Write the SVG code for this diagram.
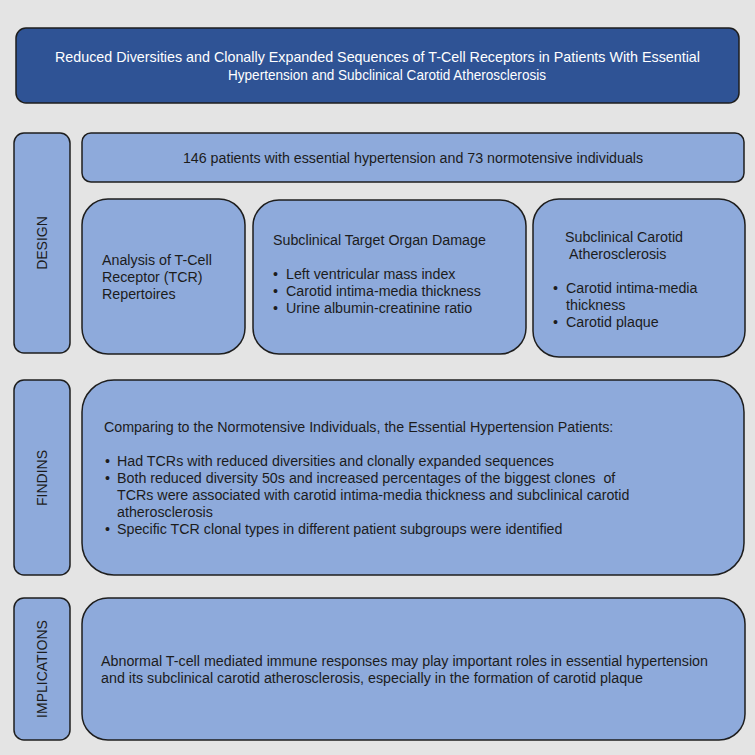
<svg xmlns="http://www.w3.org/2000/svg" width="755" height="755" viewBox="0 0 755 755">
<style>
.box{fill:#8eaadb;stroke:#1e1e1e;stroke-width:1.5}
.t{font-family:"Liberation Sans",Arial,sans-serif;font-size:14.25px;fill:#1c1c1c}
.v{font-family:"Liberation Sans",Arial,sans-serif;font-size:14px;fill:#1c1c1c;text-anchor:middle}
.w{font-family:"Liberation Sans",Arial,sans-serif;font-size:15px;fill:#ffffff;text-anchor:middle}
</style>
<rect x="0" y="0" width="755" height="755" fill="#e4e4e4"/>
<g id="title">
<rect x="16" y="28" width="723" height="75" rx="10" fill="#2f5395" stroke="#1e1e1e" stroke-width="1.5"/>
<text class="w" x="377.5" y="62" textLength="645" lengthAdjust="spacingAndGlyphs">Reduced Diversities and Clonally Expanded Sequences of T-Cell Receptors in Patients With Essential</text>
<text class="w" x="387" y="80" textLength="318" lengthAdjust="spacingAndGlyphs">Hypertension and Subclinical Carotid Atherosclerosis</text>
</g>
<g id="design-label">
<rect class="box" x="14" y="133" width="56" height="220" rx="10"/>
<text class="v" transform="translate(47,243) rotate(-90)">DESIGN</text>
</g>
<g id="patients">
<rect class="box" x="82" y="133" width="662" height="49" rx="9"/>
<text class="t" x="413" y="163" text-anchor="middle">146 patients with essential hypertension and 73 normotensive individuals</text>
</g>
<g id="analysis">
<rect class="box" x="82" y="199" width="163" height="155" rx="26"/>
<text class="t" x="102" y="265">Analysis of T-Cell</text>
<text class="t" x="102" y="282">Receptor (TCR)</text>
<text class="t" x="102" y="299">Repertoires</text>
</g>
<g id="organ-damage">
<rect class="box" x="253" y="200" width="273" height="154" rx="26"/>
<text class="t" x="273" y="245">Subclinical Target Organ Damage</text>
<text class="t" x="273" y="279">•</text><text class="t" x="286" y="279">Left ventricular mass index</text>
<text class="t" x="273" y="296">•</text><text class="t" x="286" y="296">Carotid intima-media thickness</text>
<text class="t" x="273" y="313">•</text><text class="t" x="286" y="313">Urine albumin-creatinine ratio</text>
</g>
<g id="carotid">
<rect class="box" x="533" y="199" width="212" height="158" rx="26"/>
<text class="t" x="565" y="242">Subclinical Carotid</text>
<text class="t" x="569" y="259">Atherosclerosis</text>
<text class="t" x="553" y="293">•</text><text class="t" x="566" y="293">Carotid intima-media</text>
<text class="t" x="566" y="310">thickness</text>
<text class="t" x="553" y="327">•</text><text class="t" x="566" y="327">Carotid plaque</text>
</g>
<g id="findings-label">
<rect class="box" x="14" y="380" width="56" height="195" rx="10"/>
<text class="v" transform="translate(47,478) rotate(-90)">FINDINS</text>
</g>
<g id="findings">
<rect class="box" x="82" y="380" width="662" height="195" rx="32"/>
<text class="t" x="104" y="432">Comparing to the Normotensive Individuals, the Essential Hypertension Patients:</text>
<text class="t" x="105" y="466">•</text><text class="t" x="117" y="466">Had TCRs with reduced diversities and clonally expanded sequences</text>
<text class="t" x="105" y="483">•</text><text class="t" x="117" y="483" xml:space="preserve">Both reduced diversity 50s and increased percentages of the biggest clones  of</text>
<text class="t" x="117" y="500">TCRs were associated with carotid intima-media thickness and subclinical carotid</text>
<text class="t" x="117" y="517">atherosclerosis</text>
<text class="t" x="105" y="534">•</text><text class="t" x="117" y="534">Specific TCR clonal types in different patient subgroups were identified</text>
</g>
<g id="implications-label">
<rect class="box" x="14" y="598" width="56" height="142" rx="10"/>
<text class="v" transform="translate(47,669) rotate(-90)">IMPLICATIONS</text>
</g>
<g id="implications">
<rect class="box" x="82" y="598" width="663" height="142" rx="26"/>
<text class="t" x="101" y="666" textLength="607" lengthAdjust="spacingAndGlyphs">Abnormal T-cell mediated immune responses may play important roles in essential hypertension</text>
<text class="t" x="101" y="683" textLength="542" lengthAdjust="spacingAndGlyphs">and its subclinical carotid atherosclerosis, especially in the formation of carotid plaque</text>
</g>
<g id="connectors"></g>
</svg>
